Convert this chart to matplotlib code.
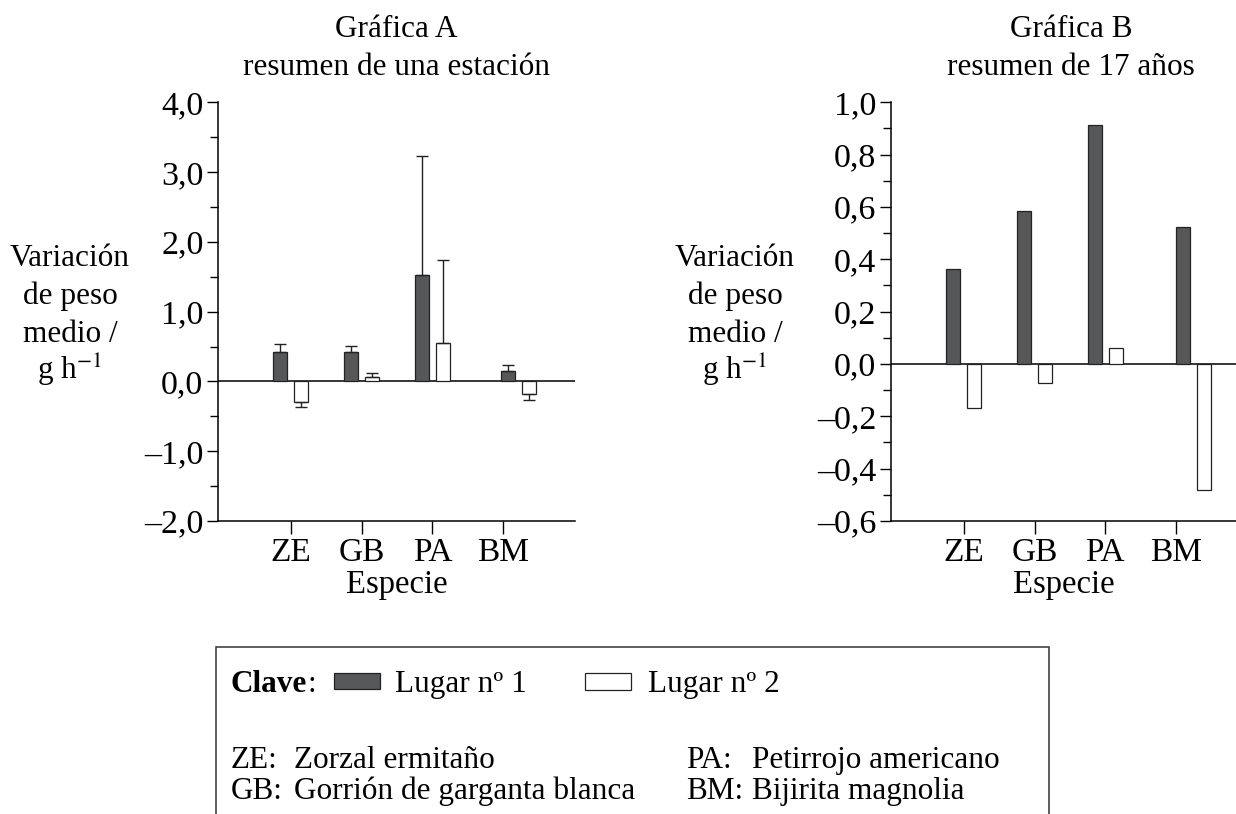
import matplotlib
matplotlib.use("Agg")
import matplotlib.pyplot as plt
import numpy as np
from matplotlib.patches import Rectangle
from matplotlib.ticker import MultipleLocator

plt.rcParams["font.family"] = ["Liberation Serif", "DejaVu Serif"]
plt.rcParams["mathtext.fontset"] = "stix"
plt.rcParams["font.size"] = 22.5

# data
species = ["ZE", "GB", "PA", "BM"]
a_site1 = [0.42, 0.42, 1.53, 0.15]
a_site1_err = [0.11, 0.09, 1.70, 0.08]
a_site2 = [-0.29, 0.07, 0.55, -0.18]
a_site2_err = [0.07, 0.045, 1.19, 0.08]
b_site1 = [0.364, 0.585, 0.914, 0.524]
b_site2 = [-0.167, -0.074, 0.062, -0.482]

a_ticks = [-2, -1, 0, 1, 2, 3, 4]
b_ticks = [-0.6, -0.4, -0.2, 0.0, 0.2, 0.4, 0.6, 0.8, 1.0]

species_names = [
    ("ZE:", "Zorzal ermitaño"),
    ("GB:", "Gorrión de garganta blanca"),
    ("PA:", "Petirrojo americano"),
    ("BM:", "Bijirita magnolia"),
]

DARK = "#565759"
W, H = 1236, 814


def px_rect(x0, y0, x1, y1):
    """Pixel box (top-left origin) -> figure fraction rect."""
    return [x0 / W, 1 - y1 / H, (x1 - x0) / W, (y1 - y0) / H]


def fx(x):
    return x / W


def fy(y):
    return 1 - y / H


def fmt(v):
    s = f"{abs(v):.1f}".replace(".", ",")
    return ("\u2013" + s) if v < 0 else s


def style_axes(ax, ticks, minor_step):
    for side in ("top", "right"):
        ax.spines[side].set_visible(False)
    for side in ("left", "bottom"):
        ax.spines[side].set_linewidth(1.1)
    ax.set_yticks(ticks)
    ax.set_yticklabels([fmt(t) for t in ticks], fontsize=24.5)
    ax.yaxis.set_minor_locator(MultipleLocator(minor_step))
    ax.tick_params(axis="y", which="major", direction="out", length=8, width=1.0, pad=2.5)
    ax.tick_params(axis="y", which="minor", direction="out", length=5.5, width=1.0)
    ax.set_xticks(range(len(species)))
    ax.set_xticklabels(species, fontsize=24)
    ax.tick_params(axis="x", which="major", direction="out", length=9, width=1.0, pad=3)
    ax.axhline(0, color="black", lw=1.1, zorder=1)
    ax.set_xlabel("Especie", labelpad=1, fontsize=23.5)


def draw_bars(ax, groups, s1, s2, e1=None, e2=None):
    off, w = 0.148, 0.198
    groups = np.asarray(groups, dtype=float)
    ax.bar(groups - off, s1, w, color=DARK, edgecolor="#222222", lw=0.9, zorder=2)
    ax.bar(groups + off, s2, w, color="white", edgecolor="#222222", lw=0.9, zorder=2)
    for xs, vals, errs in ((groups - off, s1, e1), (groups + off, s2, e2)):
        if errs is None:
            continue
        vals = np.asarray(vals)
        errs = np.asarray(errs)
        up = np.where(vals >= 0, errs, 0)
        down = np.where(vals < 0, errs, 0)
        ax.errorbar(xs, vals, yerr=[down, up], fmt="none", ecolor="#222222",
                    elinewidth=1.0, capsize=4.3, capthick=1.0, zorder=3)


fig = plt.figure(figsize=(12.36, 8.14), dpi=100)

# Grafica A
axA = fig.add_axes(px_rect(218, 102.3, 575, 521))
draw_bars(axA, [0, 1, 2, 3.21], a_site1, a_site2, a_site1_err, a_site2_err)
style_axes(axA, a_ticks, 0.5)
axA.set_ylim(-2, 4)
axA.set_xlim(-1.025, 4.01)

# Grafica B
axB = fig.add_axes(px_rect(891, 102.3, 1236, 521))
draw_bars(axB, [0, 1, 2, 3.25], b_site1, b_site2)
style_axes(axB, b_ticks, 0.1)
axB.set_ylim(-0.6, 1.0)
axB.set_xlim(-1.027, 3.846)

# titles
for xc, t1, t2 in ((396, "Gráfica A", "resumen de una estación"),
                   (1071, "Gráfica B", "resumen de 17 años")):
    fig.text(fx(xc), fy(37), t1, ha="center", va="baseline")
    fig.text(fx(xc), fy(75), t2, ha="center", va="baseline")

# y labels
ylabel_lines = ["Variación", "de peso", "medio /", "g h$^{-1}$"]
for xc in (70, 735):
    for i, line in enumerate(ylabel_lines):
        fig.text(fx(xc), fy(266 + 38 * i), line, ha="center", va="baseline")

# key box
fig.add_artist(Rectangle((fx(216), -0.05), fx(1049) - fx(216), fy(647) + 0.05,
                         transform=fig.transFigure, fill=False, lw=1.1,
                         edgecolor="#333333"))
clave = fig.text(fx(231), fy(692), "Clave", fontweight="bold", va="baseline")
fig.canvas.draw()
bb = clave.get_window_extent()
fig.text(bb.x1 / W, fy(692), ":", va="baseline")
fig.add_artist(Rectangle((fx(334), fy(689)), fx(380) - fx(334), fy(673) - fy(689),
                         transform=fig.transFigure, facecolor=DARK,
                         edgecolor="#222222", lw=0.9))
fig.text(fx(395), fy(692), "Lugar nº 1", va="baseline")
fig.add_artist(Rectangle((fx(585), fy(690)), fx(631) - fx(585), fy(673) - fy(690),
                         transform=fig.transFigure, facecolor="white",
                         edgecolor="#222222", lw=0.9))
fig.text(fx(648), fy(692), "Lugar nº 2", va="baseline")

key_pos = [(231, 294, 768), (231, 294, 799), (686, 752, 768), (686, 752, 799)]
for (code, name), (xa, xb, yb) in zip(species_names, key_pos):
    fig.text(fx(xa), fy(yb), code, va="baseline")
    fig.text(fx(xb), fy(yb), name, va="baseline")

fig.savefig("out.png", dpi=100)
